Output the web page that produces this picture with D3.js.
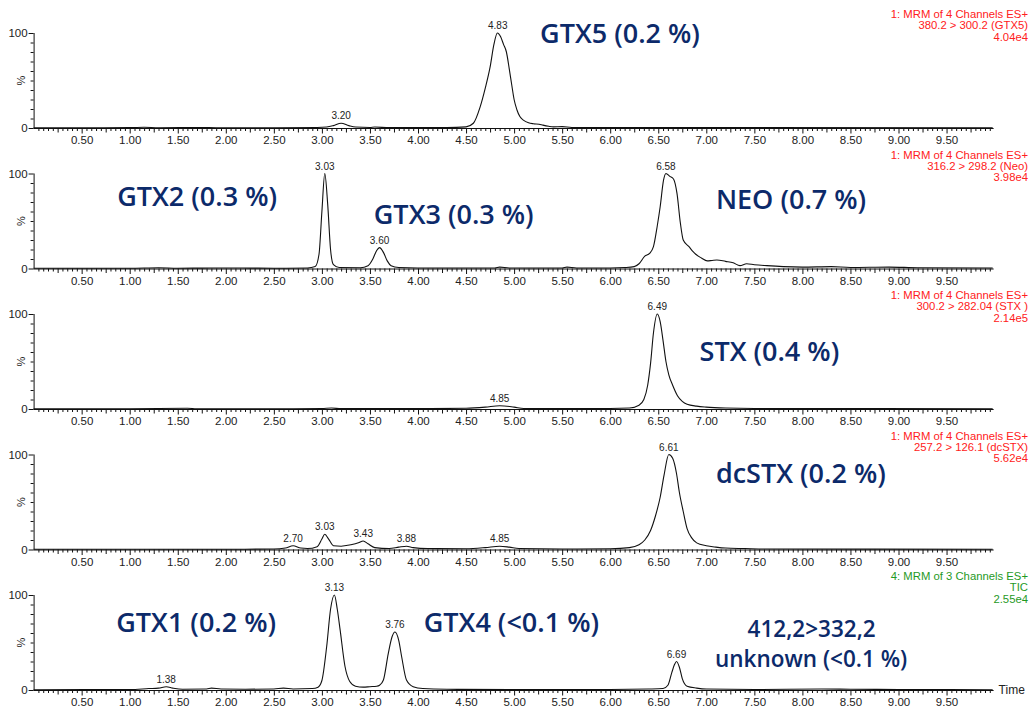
<!DOCTYPE html>
<html>
<head>
<meta charset="utf-8">
<script src="https://cdn.jsdelivr.net/npm/d3@7"></script>
<style>
  body { margin: 0; background: #fff; }
</style>
</head>
<body>
<div id="chart-wrapper"></div>
<script>
"use strict";

// traces: [retention time (min), relative intensity %]
let gtx5Trace = [[0,0.3],[0.5,0.3],[1.0,0.4],[1.15,0.8],[1.3,0.3],[1.75,0.6],[1.9,0.3],[2.5,0.3],[2.95,0.5],[3.05,1],[3.12,2.5],[3.2,5],[3.28,2.5],[3.35,1],[3.5,0.6],[3.55,1],[3.7,0.4],[4.3,0.4],[4.5,1.2],[4.576,5],[4.646,22],[4.7,42],[4.75,64],[4.79,88],[4.826,100],[4.86,96],[4.89,88],[4.92,80],[4.95,62],[4.976,45],[5.0,30],[5.03,19],[5.06,12],[5.1,8],[5.15,5.5],[5.2,4.5],[5.26,4],[5.3,3],[5.36,1.8],[5.41,1.2],[5.5,1.5],[5.6,0.5],[9.98,0.3]];
let neoTrace = [[0,0.3],[1.0,0.3],[1.3,0.8],[1.5,0.3],[2.0,0.5],[2.5,0.3],[2.85,0.5],[2.93,2],[2.97,15],[3.0,60],[3.03,100],[3.06,68],[3.09,20],[3.12,4],[3.18,1],[3.4,0.8],[3.48,3],[3.53,10],[3.57,19],[3.6,22],[3.64,17],[3.68,8],[3.72,3],[3.8,1],[4.0,0.5],[4.8,0.5],[4.85,1.5],[4.95,0.5],[5.5,0.5],[5.55,1.5],[5.65,0.5],[6.0,0.5],[6.15,1],[6.25,2],[6.3,5],[6.36,13],[6.41,16],[6.45,23],[6.49,45],[6.52,65],[6.555,93],[6.58,100],[6.62,97],[6.66,94],[6.695,79],[6.73,48],[6.76,30],[6.82,23],[6.86,18],[6.89,15],[6.95,11],[7.01,8],[7.06,8.5],[7.11,9],[7.2,7.5],[7.28,6],[7.35,3],[7.42,5],[7.5,4],[7.63,3],[7.8,2],[8.0,1.5],[8.3,2],[8.5,1],[8.9,1.5],[9.2,0.8],[9.98,0.5]];
let stxTrace = [[0,0.3],[1.0,0.3],[1.6,0.8],[1.7,0.3],[2.5,0.3],[3.0,0.5],[3.1,1],[3.2,0.4],[4.0,0.4],[4.5,0.8],[4.7,2],[4.85,3.5],[5.0,2],[5.1,0.5],[6.0,0.5],[6.2,1],[6.3,4],[6.35,10],[6.39,25],[6.42,48],[6.45,80],[6.49,100],[6.52,92],[6.55,72],[6.58,50],[6.61,36],[6.65,25],[6.7,14],[6.75,8],[6.8,5],[6.9,3],[7.0,2],[7.2,1],[7.5,0.5],[9.98,0.3]];
let dcstxTrace = [[0,0.3],[1.0,0.3],[2.0,0.3],[2.5,0.5],[2.62,1.5],[2.7,4],[2.78,1.5],[2.85,1],[2.95,3],[3.0,11],[3.03,16],[3.07,11],[3.12,4],[3.2,3.5],[3.3,5],[3.38,7],[3.43,9],[3.48,6],[3.55,2],[3.7,1],[3.8,2.5],[3.88,3.5],[3.95,2],[4.1,1],[4.5,0.8],[4.7,2],[4.85,3.5],[4.95,2.5],[5.05,1],[5.5,0.5],[6.0,0.8],[6.2,2],[6.3,5],[6.36,10],[6.42,20],[6.47,35],[6.52,55],[6.56,78],[6.61,100],[6.65,96],[6.69,80],[6.72,60],[6.76,40],[6.8,22],[6.85,12],[6.9,7],[7.0,4],[7.1,2.5],[7.2,1.5],[7.4,1],[7.6,0.5],[9.98,0.3]];
let ticTrace = [[0,0.3],[1.0,0.5],[1.2,1.5],[1.3,2],[1.38,3.5],[1.45,2],[1.55,0.8],[1.8,1],[1.85,2],[1.95,1],[2.2,0.8],[2.5,1],[2.6,2],[2.7,1],[2.9,1.5],[2.96,3],[3.0,10],[3.05,46],[3.09,85],[3.13,100],[3.16,85],[3.19,63],[3.24,25],[3.29,9],[3.35,4],[3.43,3],[3.5,3.5],[3.57,4],[3.6,5],[3.64,10.5],[3.69,38],[3.73,56],[3.76,61],[3.8,52],[3.83,35],[3.88,10.5],[3.95,3.5],[4.05,1.5],[4.3,0.8],[5.0,0.5],[5.5,0.5],[6.0,0.5],[6.4,1],[6.55,1.5],[6.6,5],[6.64,18],[6.67,27],[6.69,30],[6.72,24],[6.75,12],[6.8,4],[6.9,2],[7.0,1],[7.5,0.5],[8.2,1],[8.5,0.8],[9.0,0.5],[9.98,0.3]];

// peak labels: [time, intensity %, label]
let gtx5Peaks = [[3.20, 5, "3.20"], [4.83, 100, "4.83"]];
let neoPeaks = [[3.03, 100, "3.03"], [3.60, 22, "3.60"], [6.58, 100, "6.58"]];
let stxPeaks = [[4.85, 3.5, "4.85"], [6.49, 100, "6.49"]];
let dcstxPeaks = [[2.70, 4, "2.70"], [3.03, 16, "3.03"], [3.43, 9, "3.43"], [3.88, 3.5, "3.88"], [4.85, 3.5, "4.85"], [6.61, 100, "6.61"]];
let ticPeaks = [[1.38, 3.5, "1.38"], [3.13, 100, "3.13"], [3.76, 61, "3.76"], [6.69, 30, "6.69"]];

// channel headers (top right of each trace)
let gtx5Header = ["1: MRM of 4 Channels ES+", "380.2 > 300.2 (GTX5)", "4.04e4"];
let neoHeader = ["1: MRM of 4 Channels ES+", "316.2 > 298.2 (Neo)", "3.98e4"];
let stxHeader = ["1: MRM of 4 Channels ES+", "300.2 > 282.04 (STX )", "2.14e5"];
let dcstxHeader = ["1: MRM of 4 Channels ES+", "257.2 > 126.1 (dcSTX)", "5.62e4"];
let ticHeader = ["4: MRM of 3 Channels ES+", "TIC", "2.55e4"];

// compound annotations: [time at left edge, % at text middle, text, font size]
let gtx5Notes = [[5.27, 99, "GTX5 (0.2 %)", 27]];
let neoNotes = [[0.87, 76, "GTX2 (0.3 %)", 27], [3.54, 57, "GTX3 (0.3 %)", 27], [7.10, 73, "NEO (0.7 %)", 27]];
let stxNotes = [[6.93, 61, "STX (0.4 %)", 27]];
let dcstxNotes = [[7.10, 80, "dcSTX (0.2 %)", 27]];
let ticNotes = [[0.86, 71, "GTX1 (0.2 %)", 27], [4.06, 71, "GTX4 (<0.1 %)", 27], [7.43, 64.5, "412,2>332,2", 22.5], [7.09, 33, "unknown (<0.1 %)", 22.5]];

let xTickLabels = ["0.50","1.00","1.50","2.00","2.50","3.00","3.50","4.00","4.50","5.00","5.50","6.00","6.50","7.00","7.50","8.00","8.50","9.00","9.50"];
let yTickLabels = ["0", "100"];

let panels = [
    {trace: gtx5Trace, peaks: gtx5Peaks, header: gtx5Header, notes: gtx5Notes, color: "#ff2020"},
    {trace: neoTrace, peaks: neoPeaks, header: neoHeader, notes: neoNotes, color: "#ff2020"},
    {trace: stxTrace, peaks: stxPeaks, header: stxHeader, notes: stxNotes, color: "#ff2020"},
    {trace: dcstxTrace, peaks: dcstxPeaks, header: dcstxHeader, notes: dcstxNotes, color: "#ff2020"},
    {trace: ticTrace, peaks: ticPeaks, header: ticHeader, notes: ticNotes, color: "#1f9a1f"}
];

let width = 1032, height = 708;
let panelTop = 33, panelHeight = 95, panelStep = 140.5;
let navy = "#0c2a6a";
let sans = "'Liberation Sans', Arial, sans-serif";

let svg = d3.select("#chart-wrapper").append("svg")
    .attr("width", width)
    .attr("height", height)
    .attr("font-family", sans);

var x = d3.scaleLinear()
    .domain([0, 10])
    .range([33.6, 994.6]);

let minorTicks = d3.range(0, 200).map(i => i * 0.05).filter(v => v > 0.001 && v < 9.999 && Math.round(v * 100) % 25 != 0);
let midTicks = d3.range(1, 40).map(i => i * 0.25).filter(v => Math.round(v * 100) % 50 != 0);

panels.forEach((p, i) => {
    let top = panelTop + i * panelStep;
    let y = d3.scaleLinear()
        .domain([0, 100])
        .range([top + panelHeight, top]);
    let base = top + panelHeight;
    let g = svg.append("g");

    // X axis: minor, mid and labelled ticks
    let xa = g.append("g").attr("transform", "translate(0," + base + ")");
    xa.append("g")
        .call(d3.axisBottom(x).tickValues(minorTicks).tickSize(3).tickFormat(""))
        .call(s => s.select(".domain").remove());
    xa.append("g")
        .call(d3.axisBottom(x).tickValues(midTicks).tickSize(4.5).tickFormat(""))
        .call(s => s.select(".domain").remove());
    xa.append("g")
        .call(d3.axisBottom(x).tickValues(xTickLabels.map(Number)).tickSize(5.5).tickPadding(2.5)
            .tickFormat((d, k) => xTickLabels[k]))
        .call(s => s.select(".domain").attr("d", "M" + x(0) + ",0.5H" + x(9.99)))
        .call(s => s.selectAll("text").attr("font-size", 11.5).attr("fill", "#222")
            .attr("font-family", sans));
    xa.selectAll("line, path").attr("stroke", "#111");

    // Y axis
    let ya = g.append("g").attr("transform", "translate(" + x(0) + ",0)");
    ya.append("g")
        .call(d3.axisLeft(y).tickValues(d3.range(10, 100, 10)).tickSize(3).tickFormat(""))
        .call(s => s.select(".domain").remove());
    ya.append("g")
        .call(d3.axisLeft(y).tickValues(yTickLabels.map(Number)).tickSize(5).tickPadding(1)
            .tickFormat((d, k) => yTickLabels[k]))
        .call(s => s.select(".domain").attr("d", "M0.5," + y(100) + "V" + y(0)))
        .call(s => s.selectAll("text").attr("font-size", 11.5).attr("fill", "#222")
            .attr("font-family", sans));
    ya.selectAll("line, path").attr("stroke", "#111");

    g.append("text")
        .attr("transform", "translate(" + (x(0) - 9) + "," + y(50) + ") rotate(-90)")
        .style("text-anchor", "middle")
        .attr("font-size", 11)
        .attr("fill", "#222")
        .text("%");

    // Trace
    let line = d3.line()
        .x(d => x(d[0]))
        .y(d => y(d[1]))
        .curve(d3.curveMonotoneX);
    g.append("path")
        .datum(p.trace)
        .attr("d", line)
        .attr("fill", "none")
        .attr("stroke", "#111")
        .attr("stroke-width", 1.1);

    // Peak labels
    g.selectAll(".peak-label")
        .data(p.peaks)
        .enter()
        .append("text")
        .attr("x", d => x(d[0]))
        .attr("y", d => y(d[1]) - 4)
        .style("text-anchor", "middle")
        .attr("font-size", 10)
        .attr("fill", "#222")
        .text(d => d[2]);

    // Channel header
    g.selectAll(".header")
        .data(p.header)
        .enter()
        .append("text")
        .attr("x", 1028)
        .attr("y", (d, k) => top - 15 + k * 11.4)
        .style("text-anchor", "end")
        .attr("font-size", 11.3)
        .attr("fill", p.color)
        .text(d => d);

    // Compound annotations
    g.selectAll(".note")
        .data(p.notes)
        .enter()
        .append("text")
        .attr("x", d => x(d[0]))
        .attr("y", d => y(d[1]))
        .attr("dy", "0.35em")
        .attr("font-family", "'Open Sans', 'Noto Sans', sans-serif")
        .attr("font-weight", 600)
        .attr("font-size", d => d[3])
        .attr("fill", navy)
        .text(d => d[2]);

    if (i == panels.length - 1) {
        g.append("text")
            .attr("x", x(10) + 4)
            .attr("y", base + 4)
            .attr("font-size", 12)
            .attr("fill", "#222")
            .text("Time");
    }
});
</script>
</body>
</html>
